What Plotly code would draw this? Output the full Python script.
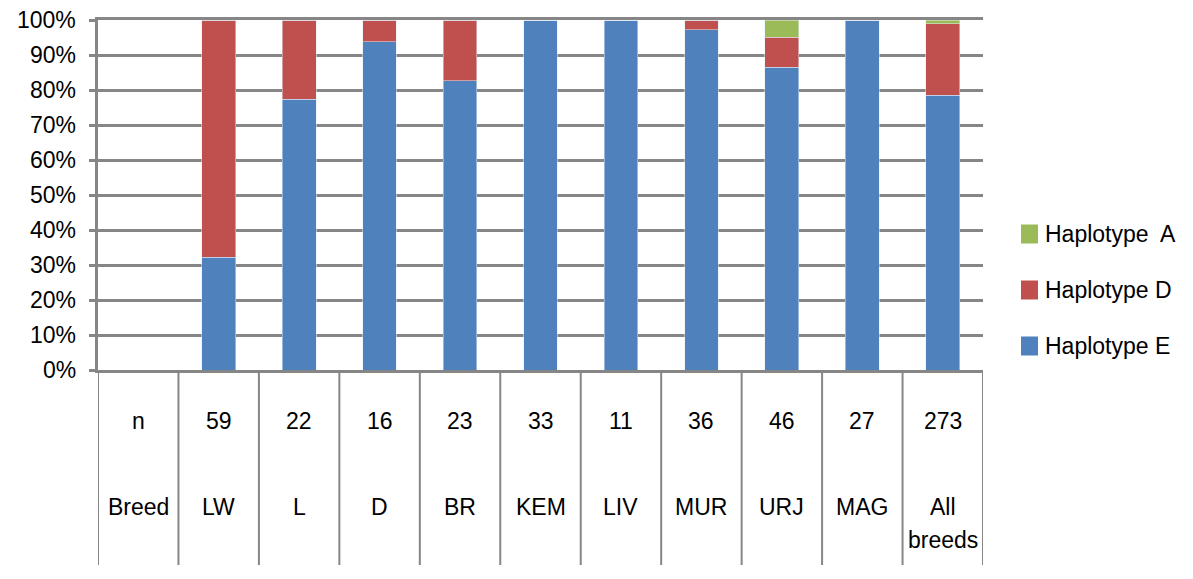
import plotly.graph_objects as go

# table columns: first one is the header column ("n" / "Breed"), no bar in it
breeds = ["Breed", "LW", "L", "D", "BR", "KEM", "LIV", "MUR", "URJ", "MAG", "All<br>breeds"]
n_counts = ["n", "59", "22", "16", "23", "33", "11", "36", "46", "27", "273"]

# haplotype frequencies in % (None for the header column)
hap_e = [None, 32.2, 77.3, 93.8, 82.6, 100, 100, 97.2, 86.5, 100, 78.5]
hap_d = [None, 67.8, 22.7, 6.2, 17.4, 0, 0, 2.8, 8.6, 0, 20.5]
hap_a = [None, 0, 0, 0, 0, 0, 0, 0, 4.9, 0, 1.0]

y_ticks = [0, 10, 20, 30, 40, 50, 60, 70, 80, 90, 100]
y_tick_text = ["0%", "10%", "20%", "30%", "40%", "50%", "60%", "70%", "80%", "90%", "100%"]

series = [("Haplotype E", hap_e, "#4F81BD"),
          ("Haplotype D", hap_d, "#C0504D"),
          ("Haplotype  A", hap_a, "#9BBB59")]

GRID = "#868686"
FONT = "Liberation Sans, Arial"
FS = 23
PLOT_W, PLOT_H = 885, 350  # px size of plot area

x = list(range(len(breeds)))

fig = go.Figure()
for name, vals, col in series:
    fig.add_trace(go.Bar(x=x, y=vals, name=name, marker_color=col, width=0.42))

# table under the plot: vertical separators and two text rows
shapes = []
for i in range(len(breeds) + 1):
    shapes.append(dict(type="line", xref="x", yref="paper", x0=i - 0.5, x1=i - 0.5,
                       y0=0, y1=-195 / PLOT_H, line=dict(color=GRID, width=2)))

annotations = []
for i in x:
    annotations.append(dict(x=i, y=-51 / PLOT_H, xref="x", yref="paper", text=n_counts[i],
                            showarrow=False, yanchor="middle",
                            font=dict(size=FS, color="black", family=FONT)))
    for j, part in enumerate(breeds[i].split("<br>")):
        annotations.append(dict(x=i, y=-(137 + 33 * j) / PLOT_H, xref="x", yref="paper",
                                text=part, showarrow=False, yanchor="middle",
                                font=dict(size=FS, color="black", family=FONT)))

# y tick labels as annotations (plotly drops the top one when it touches the edge)
for v, t in zip(y_ticks, y_tick_text):
    annotations.append(dict(x=-20 / PLOT_W, y=v, xref="paper", yref="y", text=t,
                            showarrow=False, xanchor="right", yanchor="middle",
                            font=dict(size=FS, color="black", family=FONT)))

# hand-made legend on the right (E at the bottom, A on top)
for k, (name, vals, col) in enumerate(series):
    yc = (24 + 56 * k) / PLOT_H
    shapes.append(dict(type="rect", xref="paper", yref="paper",
                       x0=923 / PLOT_W, x1=940 / PLOT_W,
                       y0=yc - 9.5 / PLOT_H, y1=yc + 9.5 / PLOT_H,
                       fillcolor=col, line=dict(width=0)))
    annotations.append(dict(x=945 / PLOT_W, y=yc, xref="paper", yref="paper", text=name,
                            showarrow=False, xanchor="left", yanchor="middle",
                            font=dict(size=FS, color="black", family=FONT)))

fig.update_layout(
    barmode="stack",
    width=1177, height=563,
    margin=dict(l=90, r=202, t=12, b=201, autoexpand=False),
    plot_bgcolor="white",
    paper_bgcolor="white",
    font=dict(family=FONT, size=FS, color="black"),
    shapes=shapes,
    annotations=annotations,
    showlegend=False,
)
fig.update_xaxes(range=[-0.5, len(breeds) - 0.5], showticklabels=False, showgrid=False,
                 showline=True, mirror=True, linecolor=GRID, linewidth=3, zeroline=False,
                 fixedrange=True, automargin=False)
fig.update_yaxes(range=[0, 100], tickvals=y_ticks, showticklabels=False, showgrid=True,
                 gridcolor=GRID, gridwidth=3, showline=True, linecolor=GRID, linewidth=3,
                 ticks="outside", ticklen=6, tickwidth=3, tickcolor=GRID, zeroline=False,
                 automargin=False)

fig.write_html("out.html")
